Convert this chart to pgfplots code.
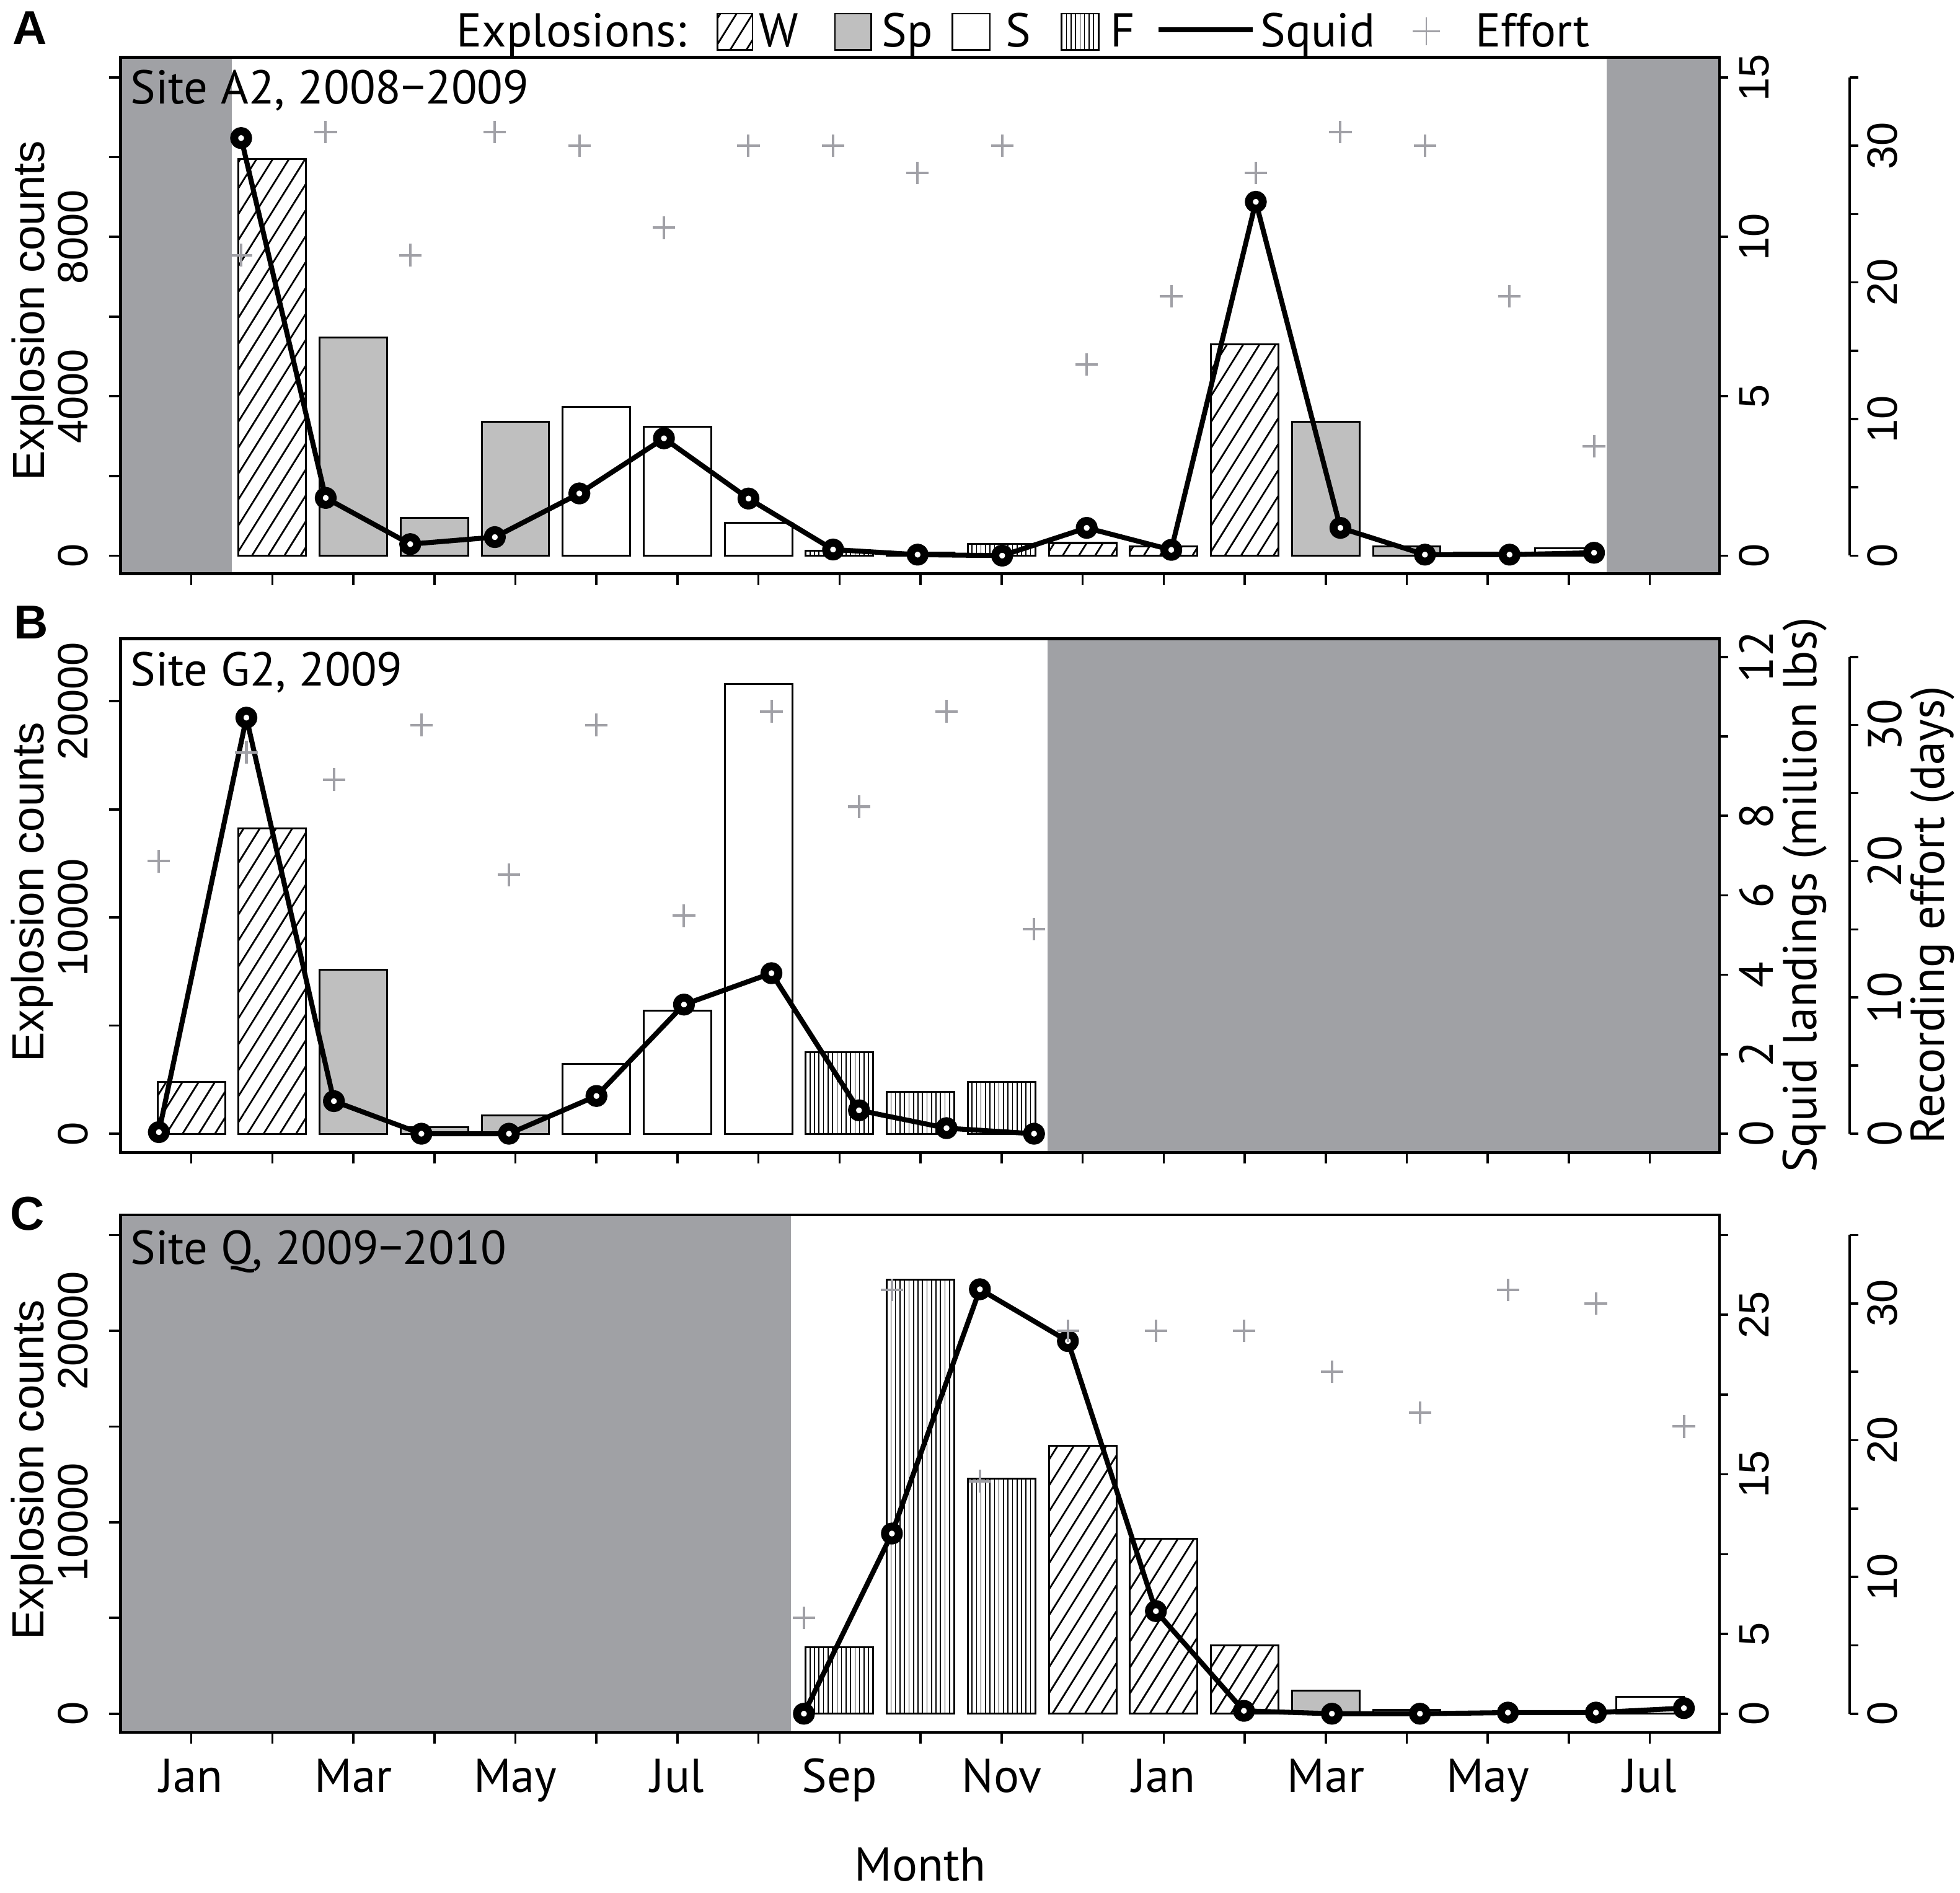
\documentclass[border=0pt]{standalone}
\usepackage{fontspec}
\setmainfont{PT Sans}
\newfontfamily\arialf{Liberation Sans}
\usepackage{pgfplots}
\pgfplotsset{compat=1.18}
\usetikzlibrary{patterns.meta}
\definecolor{shade}{RGB}{160,161,165}
\definecolor{spfill}{RGB}{191,191,191}
\definecolor{effc}{RGB}{160,160,166}
\newcommand{\fmain}{\fontsize{19}{22}\selectfont}
\newcommand{\ftick}{\arialf\fontsize{17}{20}\selectfont}
\newcommand{\fexp}{\arialf\fontsize{18}{20}\selectfont}
\tikzset{
  Wpat/.style={pattern={Lines[angle=58,distance=5.5pt,line width=0.7pt]}},
  Fpat/.style={pattern={Lines[angle=90,distance=1.8pt,line width=0.4pt]}},
}
\pgfplotsset{
  mainax/.style={
    scale only axis, width=639.5pt, anchor=south west,
    xmin=-0.872, xmax=18.858,
    axis on top, scaled x ticks=false, scaled y ticks=false,
    xtick={0,...,18}, xtick pos=bottom, ytick pos=left,
    tick align=outside, major tick length=4.5pt,
    axis line style={line width=1.15pt},
    major tick style={black, line width=0.9pt},
    yticklabel style={rotate=90, anchor=south, inner sep=0pt, font=\ftick},
    yticklabel shift=8.25pt,
    xticklabel style={anchor=base, inner sep=0pt, font=\fmain},
    xticklabel shift=19.5pt,
    xticklabels={,,,,,,,,,,,,,,,,,,,},
  },
  sqax/.style={
    scale only axis, width=639.5pt, anchor=south west,
    xmin=-0.872, xmax=18.858, clip=false, scaled y ticks=false,
    axis x line=none, axis y line*=right,
    ytick align=outside, major tick length=3.5pt,
    axis line style={line width=1pt},
    major tick style={black, line width=0.9pt},
    yticklabel style={rotate=90, anchor=north, inner sep=0pt, font=\ftick},
    yticklabel shift=4.25pt,
  },
  effax/.style={
    scale only axis, width=639.5pt, anchor=south west,
    xmin=-0.872, xmax=18.858, ymin=0, ymax=35, clip=false, hide axis,
  },
  effscale/.style={
    scale only axis, width=2pt, anchor=south east,
    xmin=0, xmax=1, ymin=0, ymax=35, scaled y ticks=false,
    axis x line=none, axis y line*=right,
    ytick={0,5,...,35}, yticklabels={0,,10,,20,,30,},
    ytick align=outside, major tick length=3.5pt,
    axis line style={line width=1pt},
    major tick style={black, line width=0.9pt},
    yticklabel style={rotate=90, anchor=north, inner sep=0pt, font=\ftick},
    yticklabel shift=3.5pt,
  },
  wbar/.style={ybar, bar width=0.8333, bar shift=0pt, draw=black, line width=0.75pt, Wpat},
  spbar/.style={ybar, bar width=0.8333, bar shift=0pt, draw=black, line width=0.75pt, fill=spfill},
  sbar/.style={ybar, bar width=0.8333, bar shift=0pt, draw=black, line width=0.75pt, fill=white},
  fbar/.style={ybar, bar width=0.8333, bar shift=0pt, draw=black, line width=0.75pt, Fpat},
  squid/.style={black, line width=2pt, line join=round, mark=*, mark size=2.8pt,
    mark options={fill=white, draw=black, line width=3.2pt, solid}},
  effort/.style={only marks, mark=+, mark size=4.5pt, effc, mark options={line width=1pt}},
}
\begin{document}
\begin{tikzpicture}
\path[use as bounding box] (0,0) rectangle (784pt,-757.2pt);

% ================= Panel A =================
\begin{axis}[mainax, at={(48.25pt,-229.5pt)}, height=206.5pt,
  ymin=-455, ymax=12502, ytick={0,2000,...,12000}, yticklabels={0,,4000,,8000,,}]
\addplot[fill=shade, draw=none] coordinates {(-0.872,-455) (0.504,-455) (0.504,12502) (-0.872,12502)} -- cycle;
\addplot[fill=shade, draw=none] coordinates {(17.47,-455) (18.858,-455) (18.858,12502) (17.47,12502)} -- cycle;
\addplot[wbar] coordinates {(1,9950) (11,317) (12,229) (13,5297)};
\addplot[spbar] coordinates {(2,5477) (3,940) (4,3365) (14,3365) (15,229) (16,72)};
\addplot[sbar] coordinates {(5,3731) (6,3239) (7,823) (17,191)};
\addplot[fbar] coordinates {(8,125) (9,80) (10,298)};
\end{axis}
\begin{axis}[sqax, at={(48.25pt,-222.25pt)}, height=191.25pt,
  ymin=0, ymax=15, ytick={0,5,10,15}, yticklabels={0,5,10,15}]
\addplot[squid] coordinates {(0.615,13.1) (1.659,1.81) (2.702,0.36) (3.746,0.58) (4.789,1.95) (5.833,3.68) (6.876,1.79) (7.920,0.19) (8.963,0.03) (10.007,0.0) (11.050,0.87) (12.094,0.18) (13.137,11.1) (14.181,0.87) (15.224,0.03) (16.268,0.03) (17.311,0.09)};
\end{axis}
\begin{axis}[effax, at={(48.25pt,-222.25pt)}, height=191.25pt]
\addplot[effort] coordinates {(0.615,22) (1.659,31) (2.702,22) (3.746,31) (4.789,30) (5.833,24) (6.876,30) (7.920,30) (8.963,28) (10.007,30) (11.050,14) (12.094,19) (13.137,28) (14.181,31) (15.224,30) (16.268,19) (17.311,8)};
\end{axis}
\begin{axis}[effscale, at={(739.75pt,-222.25pt)}, height=191.25pt]
\addplot[draw=none] coordinates {(0,0)};
\end{axis}

% ================= Panel B =================
\begin{axis}[mainax, at={(48.25pt,-461pt)}, height=205.5pt,
  ymin=-867, ymax=22890, ytick={0,5000,...,20000}, yticklabels={0,,10000,,20000}]
\addplot[fill=shade, draw=none] coordinates {(10.57,-867) (18.858,-867) (18.858,22890) (10.57,22890)} -- cycle;
\addplot[wbar] coordinates {(0,2390) (1,14110)};
\addplot[spbar] coordinates {(2,7570) (3,290) (4,840)};
\addplot[sbar] coordinates {(5,3230) (6,5700) (7,20810)};
\addplot[fbar] coordinates {(8,3780) (9,1935) (10,2390)};
\end{axis}
\begin{axis}[sqax, at={(48.25pt,-453.5pt)}, height=190.75pt,
  ymin=0, ymax=12, ytick={0,2,...,12}, yticklabels={0,2,4,6,8,,12},
  yticklabel style={font=\fmain}]
\addplot[squid] coordinates {(-0.40,0.04) (0.68,10.47) (1.76,0.82) (2.84,0) (3.92,0) (5.00,0.95) (6.08,3.25) (7.16,4.04) (8.24,0.59) (9.32,0.14) (10.40,0)};
\end{axis}
\begin{axis}[effax, at={(48.25pt,-453.5pt)}, height=190.75pt]
\addplot[effort] coordinates {(-0.40,20) (0.68,28) (1.76,26) (2.84,30) (3.92,19) (5.00,30) (6.08,16) (7.16,31) (8.24,24) (9.32,31) (10.40,15)};
\end{axis}
\begin{axis}[effscale, at={(739.75pt,-453.5pt)}, height=190.75pt, yticklabel style={font=\fmain}]
\addplot[draw=none] coordinates {(0,0)};
\end{axis}

% ================= Panel C =================
\begin{axis}[mainax, at={(48.25pt,-693pt)}, height=207pt,
  ymin=-979, ymax=26044, ytick={0,5000,...,25000}, yticklabels={0,,10000,,20000,},
  xticklabels={Jan,,Mar,,May,,Jul,,Sep,,Nov,,Jan,,Mar,,May,,Jul}]
\addplot[fill=shade, draw=none] coordinates {(-0.872,-979) (7.40,-979) (7.40,26044) (-0.872,26044)} -- cycle;
\addplot[fbar] coordinates {(8,3460) (9,22660) (10,12270)};
\addplot[wbar] coordinates {(11,14000) (12,9130) (13,3560)};
\addplot[spbar] coordinates {(14,1220) (15,200) (16,90)};
\addplot[sbar] coordinates {(17,90) (18,890)};
\end{axis}
\begin{axis}[sqax, at={(48.25pt,-685.5pt)}, height=191.5pt,
  ymin=0, ymax=30, ytick={0,5,...,30}, yticklabels={0,5,,15,,25,}]
\addplot[squid] coordinates {(7.56,0) (8.646,11.29) (9.732,26.6) (10.818,23.35) (11.904,6.43) (12.99,0.18) (14.076,0) (15.162,0) (16.248,0.07) (17.334,0.07) (18.42,0.35)};
\end{axis}
\begin{axis}[effax, at={(48.25pt,-685.5pt)}, height=191.5pt]
\addplot[effort] coordinates {(7.56,7) (8.646,31) (9.732,17) (10.818,28) (11.904,28) (12.99,28) (14.076,25) (15.162,22) (16.248,31) (17.334,30) (18.42,21)};
\end{axis}
\begin{axis}[effscale, at={(739.75pt,-685.5pt)}, height=191.5pt]
\addplot[draw=none] coordinates {(0,0)};
\end{axis}

% ================= Texts =================
\node[anchor=base west, inner sep=0pt, font=\fmain] at (52pt,-41.5pt) {Site A2, 2008−2009};
\node[anchor=base west, inner sep=0pt, font=\fmain] at (52pt,-274.4pt) {Site G2, 2009};
\node[anchor=base west, inner sep=0pt, font=\fmain] at (52pt,-505.6pt) {Site Q, 2009−2010};

\node[anchor=base west, inner sep=0pt, font=\arialf\bfseries\fontsize{19}{22}\selectfont] at (5pt,-17.75pt) {A};
\node[anchor=base west, inner sep=0pt, font=\arialf\bfseries\fontsize{19}{22}\selectfont] at (5.5pt,-255.5pt) {B};
\node[anchor=base west, inner sep=0pt, font=\arialf\bfseries\fontsize{19}{22}\selectfont] at (4pt,-492pt) {C};

\node[rotate=90, anchor=base, inner sep=0pt, font=\fexp] at (17.75pt,-124.25pt) {Explosion counts};
\node[rotate=90, anchor=base, inner sep=0pt, font=\fexp] at (17.5pt,-356.8pt) {Explosion counts};
\node[rotate=90, anchor=base, inner sep=0pt, font=\fexp] at (17.5pt,-588pt) {Explosion counts};

\node[rotate=90, anchor=base, inner sep=0pt, font=\fmain] at (726.5pt,-358pt) {Squid landings (million lbs)};
\node[rotate=90, anchor=base, inner sep=0pt, font=\fmain] at (777.75pt,-366pt) {Recording effort (days)};

\node[anchor=base, inner sep=0pt, font=\fmain] at (368pt,-752.5pt) {Month};

% ================= Legend =================
\node[anchor=base west, inner sep=0pt, font=\fmain] at (182.5pt,-18.6pt) {Explosions:};
\draw[line width=0.6pt, Wpat] (287pt,-5.5pt) rectangle (301pt,-20pt);
\node[anchor=base west, inner sep=0pt, font=\fmain] at (303.5pt,-18.6pt) {W};
\draw[line width=0.6pt, fill=spfill] (334pt,-5.5pt) rectangle (348.5pt,-20pt);
\node[anchor=base west, inner sep=0pt, font=\fmain] at (352.5pt,-18.6pt) {Sp};
\draw[line width=0.6pt, fill=white] (381pt,-5.5pt) rectangle (396pt,-20pt);
\node[anchor=base west, inner sep=0pt, font=\fmain] at (402pt,-18.6pt) {S};
\draw[line width=0.6pt, Fpat] (424.5pt,-5.5pt) rectangle (439.5pt,-20pt);
\node[anchor=base west, inner sep=0pt, font=\fmain] at (444pt,-18.6pt) {F};
\draw[line width=2pt] (463.5pt,-12pt) -- (501pt,-12pt);
\node[anchor=base west, inner sep=0pt, font=\fmain] at (504pt,-18.6pt) {Squid};
\draw[effc, line width=0.7pt] (565pt,-12.5pt) -- (576pt,-12.5pt) (570.5pt,-7pt) -- (570.5pt,-18pt);
\node[anchor=base west, inner sep=0pt, font=\fmain] at (590pt,-18.6pt) {Effort};
\end{tikzpicture}
\end{document}
